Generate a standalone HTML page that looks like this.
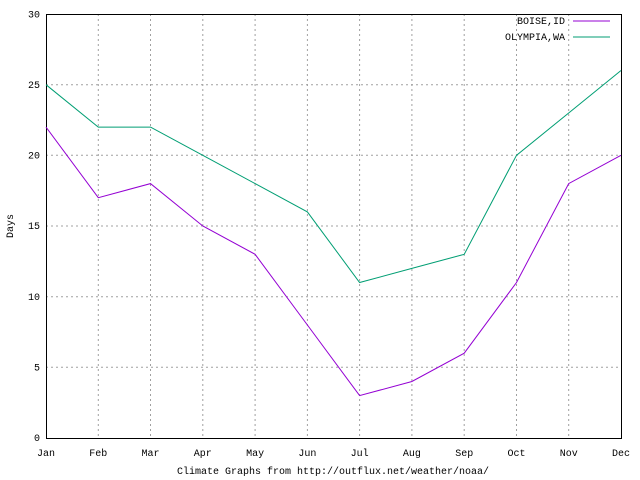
<!DOCTYPE html>
<html><head><style>body{margin:0;background:#fff}svg{display:block}text{font-family:"Liberation Mono","DejaVu Sans Mono",monospace;font-size:10px;fill:#000}</style></head>
<body>
<svg width="640" height="480" xmlns="http://www.w3.org/2000/svg">
<rect width="640" height="480" fill="#fff"/>
<g stroke="#a0a0a0" stroke-width="1" stroke-dasharray="2,3">
<line x1="46" y1="367.3" x2="621" y2="367.3"/>
<line x1="46" y1="296.7" x2="621" y2="296.7"/>
<line x1="46" y1="226" x2="621" y2="226"/>
<line x1="46" y1="155.3" x2="621" y2="155.3"/>
<line x1="46" y1="84.7" x2="621" y2="84.7"/>
<line x1="98.3" y1="14" x2="98.3" y2="438"/>
<line x1="150.5" y1="14" x2="150.5" y2="438"/>
<line x1="202.8" y1="14" x2="202.8" y2="438"/>
<line x1="255.1" y1="14" x2="255.1" y2="438"/>
<line x1="307.4" y1="14" x2="307.4" y2="438"/>
<line x1="359.6" y1="14" x2="359.6" y2="438"/>
<line x1="411.9" y1="14" x2="411.9" y2="438"/>
<line x1="464.2" y1="14" x2="464.2" y2="438"/>
<line x1="516.5" y1="14" x2="516.5" y2="438"/>
<line x1="568.7" y1="14" x2="568.7" y2="438"/>
</g>
<rect x="46.5" y="14.5" width="575" height="424" fill="none" stroke="#000"/>
<g text-anchor="end">
<text x="40" y="441">0</text><text x="40" y="370.5">5</text><text x="40" y="300">10</text><text x="40" y="229">15</text><text x="40" y="158.5">20</text><text x="40" y="88">25</text><text x="40" y="17.5">30</text>
</g>
<g text-anchor="middle">
<text x="46" y="456">Jan</text><text x="98.3" y="456">Feb</text><text x="150.5" y="456">Mar</text><text x="202.8" y="456">Apr</text><text x="255.1" y="456">May</text><text x="307.4" y="456">Jun</text><text x="359.6" y="456">Jul</text><text x="411.9" y="456">Aug</text><text x="464.2" y="456">Sep</text><text x="516.5" y="456">Oct</text><text x="568.7" y="456">Nov</text><text x="621" y="456">Dec</text>
<text x="333" y="474">Climate Graphs from http://outflux.net/weather/noaa/</text>
<text transform="translate(13,226) rotate(-90)">Days</text>
</g>
<text x="565" y="24" text-anchor="end">BOISE,ID</text>
<text x="565" y="40" text-anchor="end">OLYMPIA,WA</text>
<line x1="573" y1="21" x2="610" y2="21" stroke="#9400d3"/>
<line x1="573" y1="37" x2="610" y2="37" stroke="#009e73"/>
<polyline fill="none" stroke="#9400d3" stroke-width="1" points="46,127.1 98.3,197.7 150.5,183.6 202.8,226 255.1,254.3 307.4,325 359.6,395.6 411.9,381.5 464.2,353.2 516.5,282.5 568.7,183.6 621,155.3"/>
<polyline fill="none" stroke="#009e73" stroke-width="1" points="46,84.7 98.3,127.1 150.5,127.1 202.8,155.3 255.1,183.6 307.4,211.9 359.6,282.5 411.9,268.4 464.2,254.3 516.5,155.3 568.7,113 621,70.5"/>
</svg>
</body></html>
